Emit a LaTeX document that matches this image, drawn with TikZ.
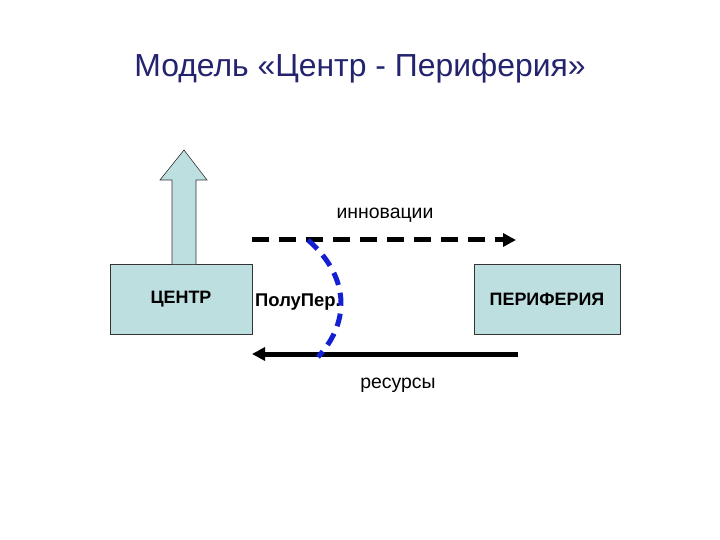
\documentclass[tikz,border=0pt]{standalone}
\usepackage{fontspec}
\setmainfont{Liberation Sans}
\usetikzlibrary{arrows.meta,calc,positioning}
\definecolor{boxfill}{RGB}{189,223,224}
\definecolor{titleblue}{RGB}{35,35,110}
\definecolor{curveblue}{RGB}{20,30,210}
\begin{document}
\begin{tikzpicture}[x=1bp,y=-1bp,
box/.style={draw=black!80,line width=0.6bp,fill=boxfill,minimum width=142bp,minimum height=70bp,font=\bfseries\fontsize{18}{20}\selectfont},
lbl/.style={font=\fontsize{19.5}{22}\selectfont},
flow/.style={line width=5bp,-{Triangle[length=13bp,width=13bp]}},
]
\useasboundingbox (0,0) rectangle (720,540);
\node[font=\fontsize{32}{38}\selectfont,text=titleblue] (title) at (360,68) {Модель «Центр - Периферия»};
\node[box] (center) at (181,299) {ЦЕНТР};
\node[box,minimum width=146bp] (periph) at (547,299) {ПЕРИФЕРИЯ};
% up arrow
\draw[draw=black!80,line width=0.6bp,fill=boxfill] (172,264) -- (172,180) -- (160,180) -- (184,150)
    -- (207,180) -- (196,180) -- (196,264);
\coordinate (inL) at (252,240);
\coordinate (inR) at (516,240);
\coordinate (resR) at (518,354);
\coordinate (resL) at (252,354);
\draw[flow,dash pattern=on 17bp off 10bp] (inL) -- (inR);
\draw[flow] (resR) -- (resL);
\node[lbl] (innov) at (385,215) {инновации};
\node[lbl] (res) at (398,385) {ресурсы};
\node[font=\bfseries\fontsize{18.5}{20}\selectfont,anchor=west,inner sep=0pt] (semi) at (255,302) {ПолуПер.};
\draw[curveblue,line width=5bp,dash pattern=on 13bp off 8bp] (308,240) .. controls (348,275) and (352,320) .. (318,357);
\end{tikzpicture}
\end{document}
